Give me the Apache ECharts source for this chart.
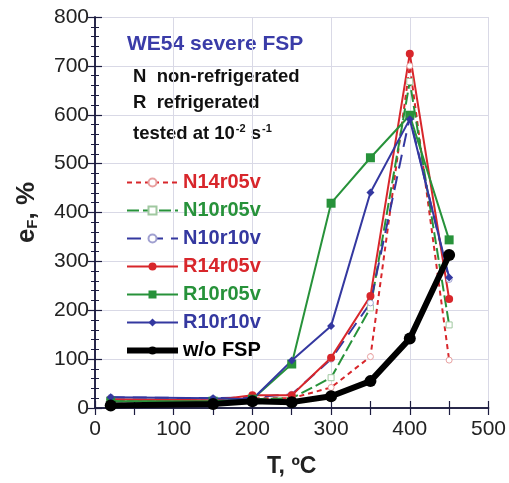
<!DOCTYPE html>
<html>
<head>
<meta charset="utf-8">
<script src="https://cdn.jsdelivr.net/npm/echarts@6/dist/echarts.min.js"></script>
<style>
  html, body { margin: 0; padding: 0; background: #fff; }
  #chart { width: 509px; height: 483px; }
</style>
</head>
<body>
<div id="chart"></div>
<script>
// Test temperatures, °C
const temps = [20, 150, 200, 250, 300, 350, 400, 450];

// Elongation to failure e_F, %
const N14r05v = [16, 15, 20, 20, 42, 105, 700, 98];
const N10r05v = [14, 14, 18, 20, 62, 205, 668, 170];
const N10r10v = [22, 20, 22, 28, 100, 215, 595, 263];
const R14r05v = [18, 16, 26, 26, 103, 229, 725, 223];
const R10r05v = [14, 14, 18, 90, 419, 512, 599, 344];
const R10r10v = [22, 20, 18, 97, 168, 441, 591, 267];
const woFSP   = [5, 8, 14, 12, 24, 55, 142, 313];

const xTicks = [0, 100, 200, 300, 400, 500];
const yTicks = [0, 100, 200, 300, 400, 500, 600, 700, 800];

const RED = '#d8262b', GREEN = '#27923a', BLUE = '#3438a0';
const FONT = '"Liberation Sans", Arial, sans-serif';
const AXIS = '#1c1c40';

const pairs = ys => temps.map((t, i) => [t, ys[i]]);

function series(name, ys, color, opts) {
  return Object.assign({
    name, type: 'line', data: pairs(ys),
    xAxisIndex: 0, yAxisIndex: 0,
    color, symbolSize: 8,
    lineStyle: { color, width: 2 },
    itemStyle: { color },
    emphasis: { disabled: true },
    animation: false
  }, opts);
}

const allSeries = [
  series('N14r05v', N14r05v, RED, { symbol: 'circle', symbolSize: 6,
    lineStyle: { color: RED, width: 2, type: [5, 4] },
    itemStyle: { color: '#fff', borderColor: '#e8a0a0', borderWidth: 1 } }),
  series('N10r05v', N10r05v, GREEN, { symbol: 'rect', symbolSize: 6,
    lineStyle: { color: GREEN, width: 2, type: [12, 4] },
    itemStyle: { color: '#fff', borderColor: '#a0c8a0', borderWidth: 1 } }),
  series('N10r10v', N10r10v, BLUE, { symbol: 'circle', symbolSize: 6,
    lineStyle: { color: BLUE, width: 2, type: [14, 8] },
    itemStyle: { color: '#fff', borderColor: '#a0a0d0', borderWidth: 1 } }),
  series('R14r05v', R14r05v, RED, { symbol: 'circle', symbolSize: 8 }),
  series('R10r05v', R10r05v, GREEN, { symbol: 'rect', symbolSize: 9 }),
  series('R10r10v', R10r10v, BLUE, { symbol: 'diamond', symbolSize: 8 }),
  series('w/o FSP', woFSP, '#000', { symbol: 'circle', symbolSize: 12,
    lineStyle: { color: '#000', width: 6 } })
];

const legendColors = [RED, GREEN, BLUE, RED, GREEN, BLUE, '#000'];

const chart = echarts.init(document.getElementById('chart'), null, { renderer: 'canvas' });

const majorTick = { show: true, inside: true, length: 7, lineStyle: { color: AXIS, width: 1.2 } };
const axisLine = { show: true, lineStyle: { color: AXIS, width: 1.5 } };
// minor ticks point into the plot area as well
const xMinor = { show: true, splitNumber: 2, length: -7, lineStyle: { color: AXIS, width: 1.2 } };
const yMinor = { show: true, splitNumber: 5, length: -4, lineStyle: { color: AXIS, width: 1 } };

chart.setOption({
  animation: false,
  backgroundColor: '#fff',
  textStyle: { fontFamily: FONT },
  grid: { left: 95, right: 17, top: 17, bottom: 71 },
  xAxis: [
    {
      type: 'value', min: xTicks[0], max: xTicks[xTicks.length - 1], interval: 100,
      position: 'bottom',
      axisLine, axisTick: majorTick, minorTick: xMinor,
      axisLabel: { fontSize: 21, color: '#222', margin: 11, fontFamily: FONT },
      splitLine: { show: true, lineStyle: { color: '#d9d9e6', width: 1 } },
      name: 'T, ºC', nameLocation: 'middle', nameGap: 47,
      nameTextStyle: { fontSize: 23, fontWeight: 'bold', color: '#222', fontFamily: FONT }
    },
    {
      type: 'value', min: 0, max: 500, interval: 100, position: 'top',
      axisLine, axisTick: majorTick, minorTick: xMinor,
      axisLabel: { show: false }, splitLine: { show: false }
    }
  ],
  yAxis: [
    {
      type: 'value', min: yTicks[0], max: yTicks[yTicks.length - 1], interval: 100,
      position: 'left',
      axisLine, axisTick: majorTick, minorTick: yMinor,
      axisLabel: { fontSize: 21, color: '#222', margin: 6, fontFamily: FONT },
      splitLine: { show: true, lineStyle: { color: '#d9d9e6', width: 1 } },
      name: '{e|e}{s|F}{e|, %}', nameLocation: 'middle', nameGap: 55, nameRotate: 90,
      nameTextStyle: {
        rich: {
          e: { fontSize: 26, fontWeight: 'bold', color: '#222', fontFamily: FONT },
          s: { fontSize: 15, fontWeight: 'bold', color: '#222', fontFamily: FONT, verticalAlign: 'bottom', padding: [11, 0, 0, 0] }
        }
      }
    },
    {
      type: 'value', min: 0, max: 800, interval: 100, position: 'right',
      axisLine, axisTick: majorTick, minorTick: yMinor,
      axisLabel: { show: false }, splitLine: { show: false }
    }
  ],
  legend: {
    orient: 'vertical', left: 124, top: 171, padding: 0,
    itemWidth: 51, itemHeight: 10, itemGap: 5,
    selectedMode: false,
    data: allSeries.map((s, i) => {
      const item = {
        name: s.name,
        textStyle: { color: legendColors[i], fontSize: 20, fontWeight: 'bold', fontFamily: FONT }
      };
      if (s.name === 'w/o FSP') item.lineStyle = { width: 6 };
      return item;
    }),
    textStyle: { fontSize: 20, fontWeight: 'bold', fontFamily: FONT, lineHeight: 23 }
  },
  graphic: [
    { type: 'text', left: 127, top: 34,
      style: { text: 'WE54 severe FSP', fill: '#3a3ca8', font: 'bold 21px ' + FONT } },
    { type: 'text', left: 133, top: 67,
      style: { text: 'N  non-refrigerated', fill: '#111', font: 'bold 18.5px ' + FONT } },
    { type: 'text', left: 133, top: 93,
      style: { text: 'R  refrigerated', fill: '#111', font: 'bold 18.5px ' + FONT } },
    { type: 'text', left: 133, top: 123,
      style: {
        text: '{t|tested at 10}{sup|-2}{t| s}{sup|-1}',
        rich: {
          t: { fill: '#111', font: 'bold 18.5px ' + FONT },
          sup: { fill: '#111', font: 'bold 11px ' + FONT, verticalAlign: 'top', padding: [0, 0, 10, 1] }
        }
      } }
  ],
  series: allSeries
});
</script>
</body>
</html>
